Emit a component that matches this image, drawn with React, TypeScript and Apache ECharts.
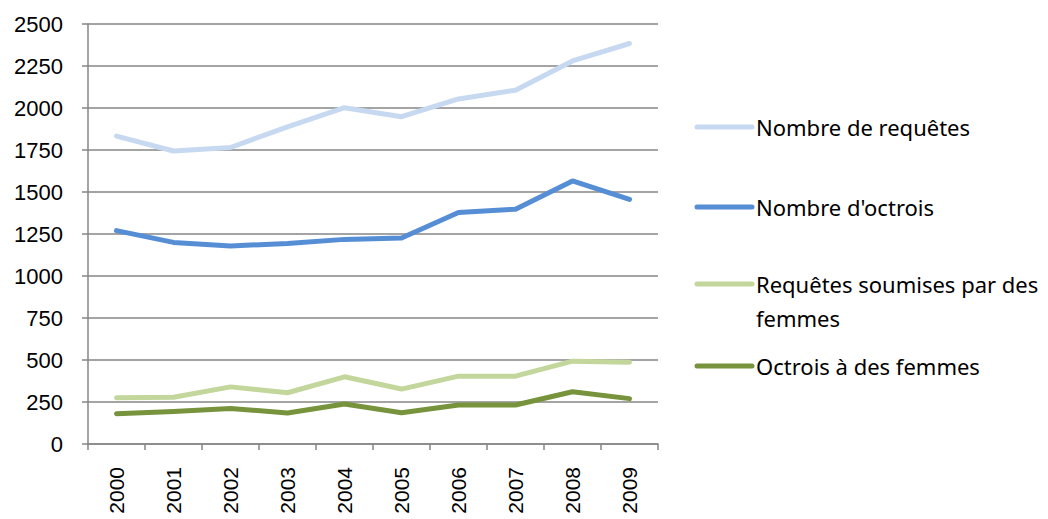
import React, { useEffect, useRef } from "react";
import * as echarts from "echarts";

const years = ["2000", "2001", "2002", "2003", "2004", "2005", "2006", "2007", "2008", "2009"];
const seriesNames = [
  "Nombre de requêtes",
  "Nombre d'octrois",
  "Requêtes soumises par des\nfemmes",
  "Octrois à des femmes",
];
const requetes = [1833, 1744, 1765, 1888, 2002, 1948, 2054, 2106, 2280, 2384];
const octrois = [1270, 1200, 1179, 1194, 1218, 1226, 1378, 1398, 1566, 1456];
const requetesFemmes = [276, 278, 340, 305, 400, 327, 404, 404, 493, 487];
const octroisFemmes = [180, 194, 212, 184, 238, 186, 232, 232, 311, 270];
const yTicks = { min: 0, max: 2500, interval: 250 };

const colors = ["#C6D9F1", "#558ED5", "#C3D69B", "#77933C"];
const legendY = [127, 207, 284, 366];

export default function App() {
  const ref = useRef<HTMLDivElement>(null);
  useEffect(() => {
    const chart = echarts.init(ref.current!, null, { renderer: "svg" });
    const data = [requetes, octrois, requetesFemmes, octroisFemmes];
    const graphic: any[] = [];
    seriesNames.forEach((name, i) => {
      graphic.push({
        type: "line",
        shape: { x1: 697, y1: legendY[i], x2: 752, y2: legendY[i] },
        style: { stroke: colors[i], lineWidth: 5, lineCap: "round" },
      });
      graphic.push({
        type: "text",
        x: 756,
        y: legendY[i] - 17,
        style: {
          text: name,
          fill: "#000",
          font: '22px "Noto Sans"',
          lineHeight: 34,
          textVerticalAlign: "top",
        },
      });
    });
    chart.setOption({
      animation: false,
      grid: { left: 88, top: 24, right: 390, bottom: 75, containLabel: false },
      xAxis: {
        type: "category",
        data: years,
        boundaryGap: true,
        axisLine: { lineStyle: { color: "#868686", width: 1.5 } },
        axisTick: { show: true, alignWithLabel: false, length: 6, lineStyle: { color: "#868686", width: 1.5 } },
        axisLabel: {
          rotate: 90,
          margin: 23,
          color: "#000",
          fontFamily: "Liberation Sans",
          fontSize: 21,
        },
      },
      yAxis: {
        type: "value",
        min: yTicks.min,
        max: yTicks.max,
        interval: yTicks.interval,
        axisLine: { show: true, lineStyle: { color: "#868686", width: 1.5 } },
        axisTick: { show: true, length: 6, lineStyle: { color: "#868686", width: 1.5 } },
        splitLine: { lineStyle: { color: "#868686", width: 1.5 } },
        axisLabel: {
          margin: 25,
          color: "#000",
          fontFamily: "Liberation Sans",
          fontSize: 22,
          formatter: (v: number) => String(v),
        },
      },
      series: data.map((d, i) => ({
        name: seriesNames[i],
        type: "line",
        data: d,
        symbol: "none",
        lineStyle: { color: colors[i], width: 5, cap: "round", join: "round" },
        itemStyle: { color: colors[i] },
      })),
      graphic,
    });
    return () => chart.dispose();
  }, []);
  return <div ref={ref} style={{ width: 1048, height: 519, position: "absolute", left: 0, top: 0 }} />;
}
